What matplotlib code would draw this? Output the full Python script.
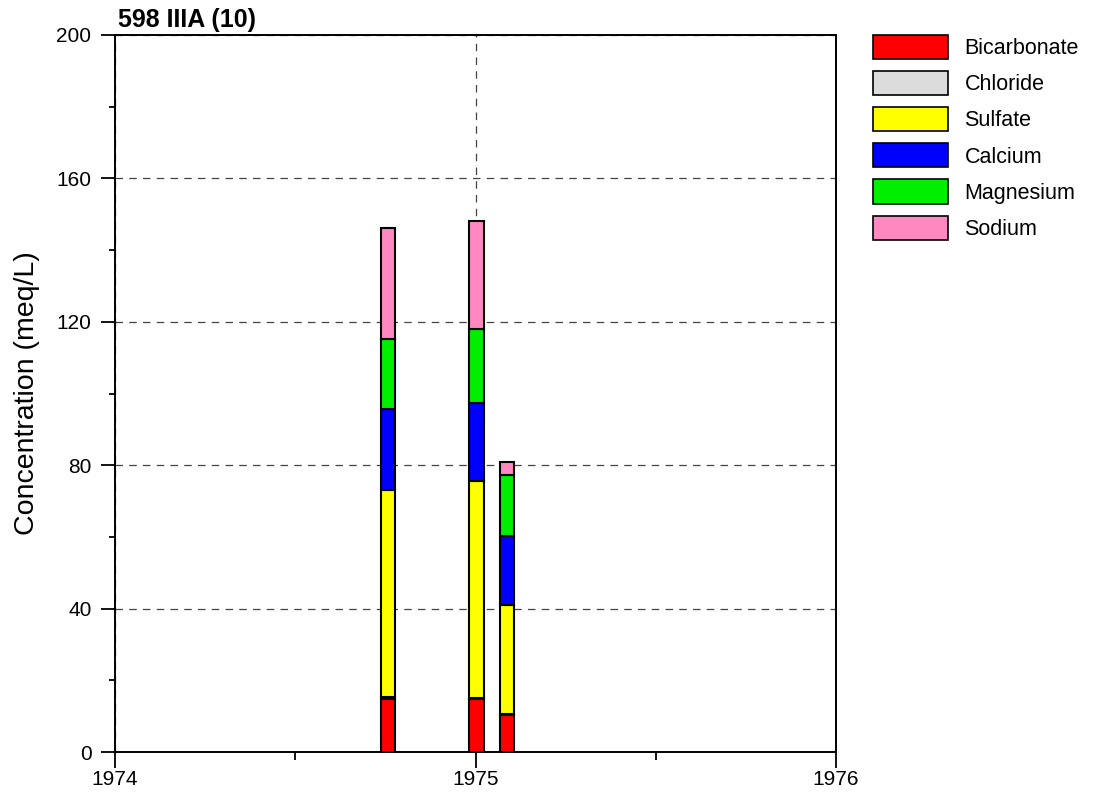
import numpy as np
import matplotlib
matplotlib.use('Agg')
import matplotlib.pyplot as plt
from matplotlib.patches import Patch
from matplotlib.ticker import MultipleLocator

# sample dates as decimal years
dates = [1974.758, 1975.003, 1975.087]

ions = ['Bicarbonate', 'Chloride', 'Sulfate', 'Calcium', 'Magnesium', 'Sodium']
colors = ['#ff0000', '#dcdcdc', '#ffff00', '#0000ff', '#00ee00', '#ff88c0']

bicarbonate = [14.8, 14.8, 10.3]
chloride = [0.5, 0.3, 0.2]
sulfate = [57.9, 60.6, 30.5]
calcium = [22.4, 21.6, 19.3]
magnesium = [19.6, 20.7, 17.0]
sodium = [30.9, 30.2, 3.7]

values = [bicarbonate, chloride, sulfate, calcium, magnesium, sodium]

plt.rcParams['font.family'] = ['Liberation Sans', 'DejaVu Sans']

fig = plt.figure(figsize=(10.93, 7.95), dpi=100)
fig.set_facecolor('w')
ax = fig.add_axes([115 / 1093, 1 - 752 / 795, (836 - 115) / 1093, (752 - 35) / 795])

bottom = np.zeros(len(dates))
for name, col, vals in zip(ions, colors, values):
    ax.bar(dates, vals, width=0.04, bottom=bottom, color=col,
           edgecolor='k', linewidth=1.5, zorder=3)
    bottom += np.array(vals)

ax.set_xlim(1974, 1976)
ax.set_ylim(0, 200)
ax.set_xticks([1974, 1975, 1976])
ax.xaxis.set_minor_locator(MultipleLocator(0.5))
ax.set_yticks([0, 40, 80, 120, 160, 200])
ax.yaxis.set_minor_locator(MultipleLocator(20))

ax.set_xticklabels(['1974', '1975', '1976'], fontsize=15)
ax.set_yticklabels(['0', '40', '80', '120', '160', '200'], fontsize=15)

ax.tick_params(axis='x', which='major', direction='out', length=11.5, width=1.3, pad=1.5)
ax.tick_params(axis='x', which='minor', direction='out', length=5.8, width=1.3)
ax.tick_params(axis='y', which='major', direction='out', length=10, width=1.3, pad=7)
ax.tick_params(axis='y', which='minor', direction='out', length=4.3, width=1.3)

for s in ax.spines.values():
    s.set_linewidth(1.4)

ax.grid(True, which='major', axis='both', linestyle=(0, (6, 5)), color='#444444', linewidth=0.9, zorder=0)
ax.set_axisbelow(True)

ax.set_ylabel('Concentration (meq/L)', fontsize=20.5, labelpad=12)
ax.text(0.004, 1.004, '598 IIIA (10)', transform=ax.transAxes, fontsize=18,
        fontweight='bold', ha='left', va='bottom')

handles = [Patch(facecolor=c, edgecolor='k', linewidth=1.2) for c in colors]
fig.legend(handles, ions, loc='upper left', bbox_to_anchor=(873 / 1093, 1 - 35 / 795),
           frameon=False, fontsize=15.5, handlelength=3.5, handleheight=1.35,
           labelspacing=0.55, handletextpad=0.75, borderpad=0, borderaxespad=0)

fig.savefig('out.png', dpi=100)
